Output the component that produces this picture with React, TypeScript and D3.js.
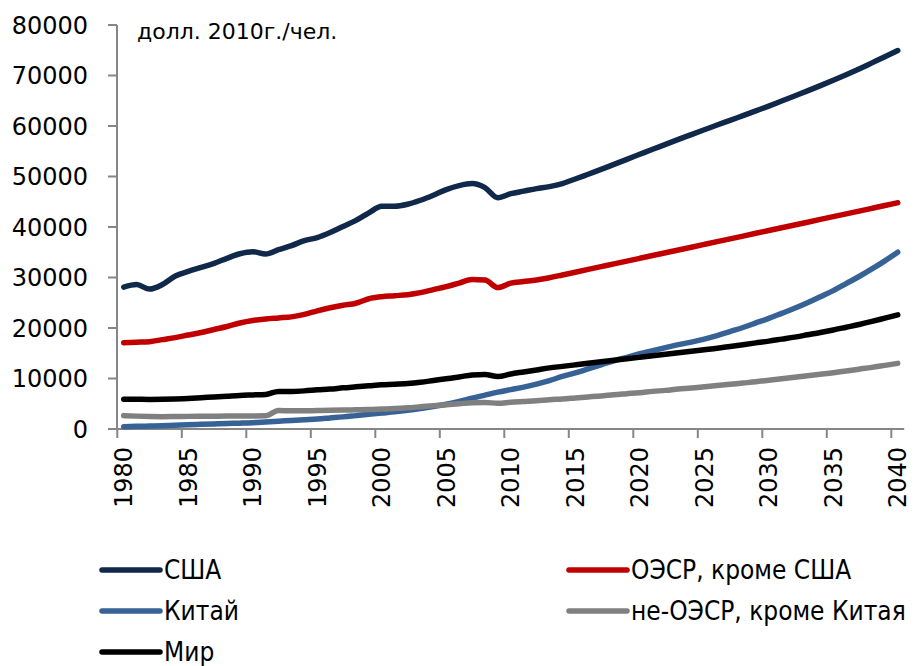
import React from "react";
import * as d3 from "d3";

// годы 1980–2040
const years = d3.range(1980, 2041);

const usa = [
  28100, 28600, 27700, 28600, 30300, 31200, 32000, 32800, 33800, 34700,
  35100, 34650, 35500, 36300, 37300, 37900, 38900, 40100, 41300, 42800,
  44100, 44100, 44500, 45300, 46300, 47400, 48200, 48600, 47800, 45800,
  46600, 47100, 47600, 48000, 48600, 49500, 50450, 51400, 52400, 53400,
  54400, 55400, 56350, 57350, 58300, 59250, 60200, 61100, 62050, 63000,
  63950, 64950, 65950, 66950, 68000, 69050, 70150, 71300, 72500, 73700,
  74950,
];

const oecd = [
  17100, 17200, 17300, 17700, 18100, 18600, 19100, 19700, 20300, 21000,
  21500, 21800, 22000, 22200, 22700, 23400, 24000, 24500, 24900, 25800,
  26200, 26400, 26600, 27000, 27600, 28200, 28900, 29600, 29500, 28000,
  28900, 29200, 29500, 29950, 30500, 31050, 31600, 32150, 32700, 33250,
  33800, 34350, 34900, 35450, 36000, 36550, 37100, 37650, 38200, 38750,
  39300, 39850, 40400, 40950, 41500, 42050, 42600, 43150, 43700, 44250,
  44800,
];

const china = [
  460, 520, 590, 660, 750, 850, 930, 1010, 1090, 1160,
  1250, 1400, 1550, 1700, 1850, 2000, 2200, 2400, 2650, 2900,
  3150, 3400, 3700, 4050, 4450, 4900, 5450, 6100, 6700, 7300,
  7800, 8300, 8900, 9600, 10400, 11100, 11900, 12700, 13500, 14200,
  14900, 15500, 16100, 16700, 17200, 17800, 18500, 19300, 20100, 21000,
  21900, 22900, 23900, 25000, 26200, 27400, 28800, 30200, 31700, 33300,
  35000,
];

const nonOecd = [
  2650, 2550, 2480, 2450, 2470, 2500, 2520, 2540, 2560, 2570,
  2580, 2600, 3650, 3600, 3600, 3650, 3700, 3750, 3800, 3850,
  3950, 4050, 4200, 4400, 4600, 4800, 5000, 5200, 5250, 5100,
  5300, 5450, 5600, 5800, 5950, 6150, 6350, 6550, 6800, 7000,
  7200, 7450, 7650, 7900, 8100, 8350, 8600, 8850, 9100, 9350,
  9650, 9950, 10250, 10550, 10850, 11150, 11500, 11850, 12200, 12600,
  13000,
];

const world = [
  5900, 5880, 5850, 5880, 5950, 6050, 6200, 6350, 6500, 6650,
  6750, 6850, 7450, 7450, 7550, 7750, 7900, 8150, 8350, 8550,
  8750, 8850, 9000, 9250, 9600, 9950, 10300, 10700, 10800, 10400,
  10900, 11300, 11700, 12100, 12400, 12700, 13000, 13300, 13600, 13900,
  14200, 14500, 14800, 15100, 15400, 15700, 16000, 16350, 16700, 17050,
  17400, 17800, 18200, 18650, 19100, 19600, 20150, 20700, 21300, 21950,
  22600,
];

const seriesNames = ["США", "ОЭСР, кроме США", "Китай", "не-ОЭСР, кроме Китая", "Мир"];
const seriesColors = ["#10294a", "#c00000", "#376296", "#808080", "#000000"];
const yTicks = [0, 10000, 20000, 30000, 40000, 50000, 60000, 70000, 80000];

const W = 915;
const H = 666;
const axisFont = "'DejaVu Sans', Verdana, sans-serif";
const legendFont = "'DejaVu Sans Condensed', 'Liberation Sans Narrow', 'DejaVu Sans', sans-serif";

export default function App() {
  const allSeries = [usa, oecd, china, nonOecd, world];

  const x = d3.scaleBand<number>().domain(years).range([117.3, 904.2]).padding(0);
  const y = d3.scaleLinear().domain([0, 80000]).range([429, 25]);
  const half = x.bandwidth() / 2;

  const line = d3
    .line<number>()
    .x((d, i) => (x(years[i]) as number) + half)
    .y(d => y(d))
    .curve(d3.curveMonotoneX);

  const tickYears = years.filter(yr => yr % 5 === 0);

  // legend: 2 columns, 3 rows
  const legendPos = [
    { x: 102, y: 570 },
    { x: 569, y: 570 },
    { x: 102, y: 611 },
    { x: 569, y: 611 },
    { x: 102, y: 652 },
  ];

  return (
    <svg
      width={W}
      height={H}
      style={{ position: "absolute", left: 0, top: 0, background: "#fff" }}
    >
      {/* y axis */}
      <line x1={117} x2={117} y1={y(80000)} y2={y(0)} stroke="#868686" strokeWidth={2} />
      {yTicks.map(t => (
        <g key={t}>
          <line x1={108} x2={117} y1={y(t)} y2={y(t)} stroke="#868686" strokeWidth={2} />
          <text
            x={88}
            y={y(t)}
            dy="0.36em"
            textAnchor="end"
            fontFamily={axisFont}
            fontSize={24}
            fill="#000"
          >
            {t}
          </text>
        </g>
      ))}

      {/* x axis */}
      <line x1={116} x2={904.2} y1={y(0)} y2={y(0)} stroke="#868686" strokeWidth={2} />
      {tickYears.map(yr => (
        <g key={yr}>
          <line
            x1={x(yr) as number}
            x2={x(yr) as number}
            y1={y(0)}
            y2={y(0) + 9}
            stroke="#868686"
            strokeWidth={2}
          />
          <text
            transform={`translate(${(x(yr) as number) + half},447) rotate(-90)`}
            dy="0.36em"
            textAnchor="end"
            fontFamily={axisFont}
            fontSize={24}
            fill="#000"
          >
            {yr}
          </text>
        </g>
      ))}

      <text x={137} y={39} fontFamily={axisFont} fontSize={22} fill="#000">
        долл. 2010г./чел.
      </text>

      {/* lines */}
      {allSeries.map((s, i) => (
        <path
          key={seriesNames[i]}
          d={line(s) || ""}
          fill="none"
          stroke={seriesColors[i]}
          strokeWidth={5.5}
          strokeLinejoin="round"
          strokeLinecap="round"
        />
      ))}

      {/* legend */}
      {seriesNames.map((name, i) => (
        <g key={name} transform={`translate(${legendPos[i].x},${legendPos[i].y})`}>
          <line x1={0} x2={58} y1={0} y2={0} stroke={seriesColors[i]} strokeWidth={5.5} strokeLinecap="round" />
          <text
            x={62}
            y={9}
            fontFamily={legendFont}
            fontSize={26}
            style={{ fontStretch: "condensed" }}
            fill="#000"
          >
            {name}
          </text>
        </g>
      ))}
    </svg>
  );
}
